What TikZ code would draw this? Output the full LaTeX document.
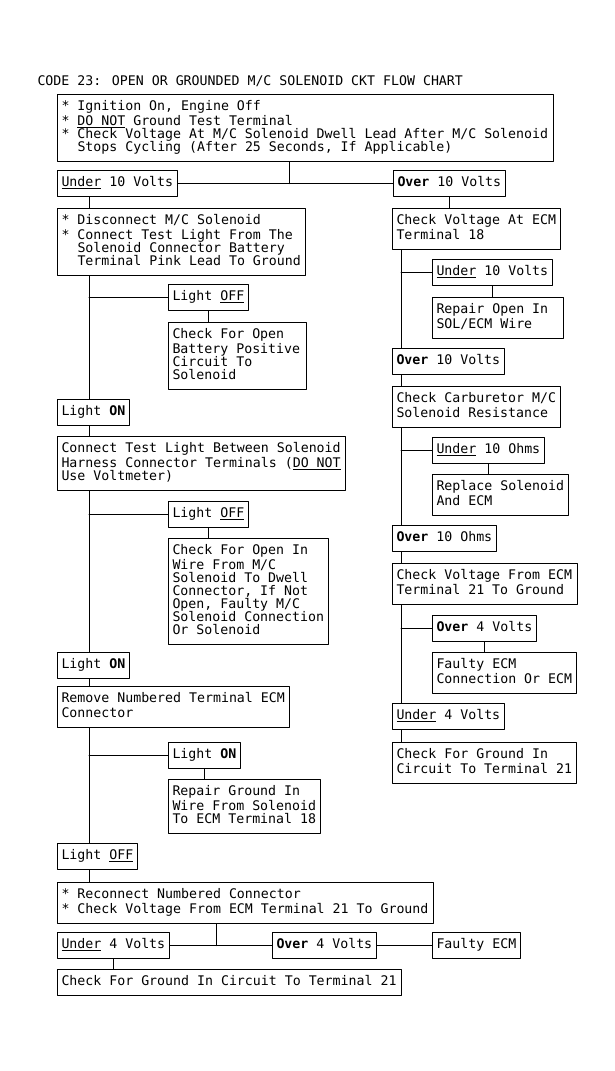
\documentclass[tikz,border=0pt]{standalone}
\usepackage{fontspec}
\newfontfamily\chartfont{DejaVu Sans Mono}
\newcommand\contline{\hspace*{16pt}}
\begin{document}
\begin{tikzpicture}[line join=round, line cap=round, x=1pt, y=-1pt, line width=1pt,
  font=\chartfont\fontsize{13.25}{13}\selectfont,
  box/.style={draw, anchor=north west, align=left, inner xsep=4pt, inner ysep=6pt,
    text width=#1pt,
    execute at begin node={\spaceskip=\fontdimen2\font\xspaceskip=\fontdimen2\font\strut},
    execute at end node=\strut}]
  \path[fill=white] (0,0) rectangle (615,1071);
  \useasboundingbox (0,0) rectangle (615,1071);
  \coordinate (lsp) at (89,0);
  \coordinate (rsp) at (401,0);
  \coordinate (j1) at (289,0);
  \coordinate (j2) at (216,0);
  \node[anchor=west, inner sep=0pt] (title) at (37,81) {CODE 23: OPEN OR GROUNDED M/C SOLENOID CKT FLOW CHART};
  \node[box=488] (b1) at (57,94) {* Ignition On, Engine Off\\{*} \underline{DO NOT} Ground Test Terminal\\{*} Check Voltage At M/C Solenoid Dwell Lead After M/C Solenoid\\\contline Stops Cycling (After 25 Seconds, If Applicable)};
  \node[box=112] (under1) at (57,170) {\underline{Under} 10 Volts};
  \node[box=104] (over1) at (393,170) {\textbf{Over} 10 Volts};
  % left column
  \node[box=240] (disc) at (57,208) {* Disconnect M/C Solenoid\\{*} Connect Test Light From The\\\contline Solenoid Connector Battery\\\contline Terminal Pink Lead To Ground};
  \node[box=72] (loff1) at (168,284) {Light \underline{OFF}};
  \node[box=130] (chk1) at (168,322) {Check For Open\\Battery Positive\\Circuit To\\Solenoid};
  \node[box=64] (lon1) at (57,399) {Light \textbf{ON}};
  \node[box=280] (conn) at (57,436) {Connect Test Light Between Solenoid\\Harness Connector Terminals (\underline{DO NOT}\\Use Voltmeter)};
  \node[box=72] (loff2) at (168,501) {Light \underline{OFF}};
  \node[box=152] (chk2) at (168,538) {Check For Open In\\Wire From M/C\\Solenoid To Dwell\\Connector, If Not\\Open, Faulty M/C\\Solenoid Connection\\Or Solenoid};
  \node[box=64] (lon2) at (57,652) {Light \textbf{ON}};
  \node[box=224] (rem) at (57,686) {Remove Numbered Terminal ECM\\Connector};
  \node[box=64] (lon3) at (168,742) {Light \textbf{ON}};
  \node[box=144] (rep) at (168,779) {Repair Ground In\\Wire From Solenoid\\To ECM Terminal 18};
  \node[box=72] (loff3) at (57,843) {Light \underline{OFF}};
  \node[box=368] (recon) at (57,882) {* Reconnect Numbered Connector\\{*} Check Voltage From ECM Terminal 21 To Ground};
  \node[box=104] (under4b) at (57,932) {\underline{Under} 4 Volts};
  \node[box=96] (over4b) at (272,932) {\textbf{Over} 4 Volts};
  \node[box=80] (faulty) at (432,932) {Faulty ECM};
  \node[box=336] (gnd2) at (57,969) {Check For Ground In Circuit To Terminal 21};
  % right column
  \node[box=160] (cva) at (392,208) {Check Voltage At ECM\\Terminal 18};
  \node[box=112] (u10) at (432,259) {\underline{Under} 10 Volts};
  \node[box=123] (ropen) at (432,297) {Repair Open In\\SOL/ECM Wire};
  \node[box=104] (o10b) at (392,348) {\textbf{Over} 10 Volts};
  \node[box=160] (carb) at (392,386) {Check Carburetor M/C\\Solenoid Resistance};
  \node[box=104] (uohm) at (432,437) {\underline{Under} 10 Ohms};
  \node[box=128] (repl) at (432,474) {Replace Solenoid\\And ECM};
  \node[box=96] (oohm) at (392,525) {\textbf{Over} 10 Ohms};
  \node[box=177] (cvf) at (392,563) {Check Voltage From ECM\\Terminal 21 To Ground};
  \node[box=96] (o4) at (432,615) {\textbf{Over} 4 Volts};
  \node[box=136] (fecm) at (432,652) {Faulty ECM\\Connection Or ECM};
  \node[box=104] (u4) at (392,703) {\underline{Under} 4 Volts};
  \node[box=176] (gnd1) at (392,742) {Check For Ground In\\Circuit To Terminal 21};
  % connectors
  \draw (b1.south -| j1) -- (j1 |- under1.east);
  \draw (under1.east) -- (over1.west);
  \draw (over1.south) -- (over1.south |- cva.north);
  \foreach \a/\b in {under1/disc, disc/lon1, lon1/conn, conn/lon2, lon2/rem, rem/loff3, loff3/recon}
    \draw (\a.south -| lsp) -- (\b.north -| lsp);
  \foreach \a/\b in {cva/o10b, o10b/carb, carb/oohm, oohm/cvf, cvf/u4, u4/gnd1}
    \draw (\a.south -| rsp) -- (\b.north -| rsp);
  \foreach \a/\b in {loff1/chk1, loff2/chk2, lon3/rep}
    {\draw (lsp |- \a.west) -- (\a.west);
     \draw (\a.south) -- (\a.south |- \b.north);}
  \foreach \a/\b in {u10/ropen, uohm/repl, o4/fecm}
    {\draw (rsp |- \a.west) -- (\a.west);
     \draw (\a.south) -- (\a.south |- \b.north);}
  \draw (recon.south -| j2) -- (j2 |- under4b.east);
  \draw (under4b.east) -- (over4b.west);
  \draw (over4b.east) -- (faulty.west);
  \draw (under4b.south) -- (under4b.south |- gnd2.north);
\end{tikzpicture}
\end{document}
